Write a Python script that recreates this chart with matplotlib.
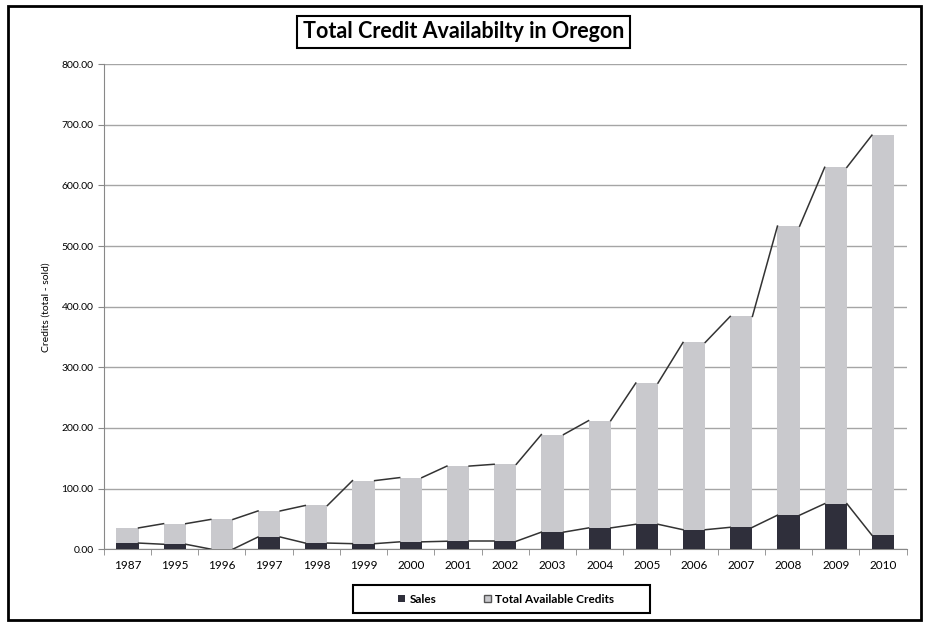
import matplotlib.pyplot as plt
import numpy as np
from matplotlib.patches import Rectangle

plt.rcParams['font.family'] = ['Lato', 'DejaVu Sans']

# values
years = ["1987", "1995", "1996", "1997", "1998", "1999", "2000", "2001", "2002",
         "2003", "2004", "2005", "2006", "2007", "2008", "2009", "2010"]
sales = [10, 8, 0, 20, 10, 9, 12, 13, 13, 28, 35, 41, 32, 36, 56, 75, 23]
available = [25, 34, 49, 43, 62, 104, 106, 124, 127, 161, 177, 233, 309, 348, 477, 555, 660]

dark = "#2f2f3b"
light = "#c9c9cd"
width = 0.47

fig = plt.figure(figsize=(9.27, 6.24), dpi=100)
ax = fig.add_axes([0.112, 0.120, 0.866, 0.777])

x = np.arange(len(years))
totals = np.array(sales) + np.array(available)

ax.bar(x, sales, width, color=dark, label="Sales", zorder=3)
ax.bar(x, available, width, bottom=sales, color=light,
       label="Total Available Credits", zorder=3)

# Excel-style series lines between the stacked bars
for tops in (np.array(sales), totals):
    for i in range(len(x) - 1):
        ax.plot([x[i] + width / 2, x[i + 1] - width / 2], [tops[i], tops[i + 1]],
                color="#333333", lw=1.1, zorder=4)

ax.set_xlim(-0.5, len(years) - 0.5)
ax.set_ylim(0, 800)
ax.set_yticks(np.arange(0, 801, 100))
ax.set_yticklabels([f"{v:.2f}" for v in range(0, 801, 100)], fontsize=7.5)
ax.set_xticks(x)
ax.set_xticklabels(years, fontsize=8.5)
ax.set_xticks(np.arange(-0.5, len(years), 1), minor=True)
ax.tick_params(axis="x", which="major", length=0, pad=8)
ax.tick_params(axis="x", which="minor", length=4, color="#888888")
ax.tick_params(axis="y", length=4, color="#888888")
ax.grid(axis="y", color="#a5a5a5", lw=1, zorder=0)
for side in ("top", "right"):
    ax.spines[side].set_visible(False)
ax.spines["left"].set_color("#888888")
ax.spines["bottom"].set_color("#888888")

ax.set_ylabel("Credits (total - sold)", fontsize=7.5, labelpad=8)

fig.text(0.5, 0.949, "Total Credit Availabilty in Oregon", ha="center", va="center",
         fontsize=15.5, fontweight="bold",
         bbox=dict(boxstyle="square,pad=0.25", fc="white", ec="black", lw=1.5))

leg = fig.legend(loc="center", bbox_to_anchor=(0.546, 0.040), ncol=2,
                 prop={"weight": "bold", "size": 8.5}, frameon=False,
                 handlelength=0.6, handleheight=0.6, columnspacing=4.0,
                 handletextpad=0.4)
leg.legend_handles[1].set_edgecolor("#555555")

# legend box and outer border
fig.patches.append(Rectangle((0.381, 0.018), 0.320, 0.045, transform=fig.transFigure,
                             fill=False, ec="black", lw=1.5))
fig.patches.append(Rectangle((0.009, 0.006), 0.984, 0.984, transform=fig.transFigure,
                             fill=False, ec="black", lw=2))

fig.savefig("out.png", dpi=100)
